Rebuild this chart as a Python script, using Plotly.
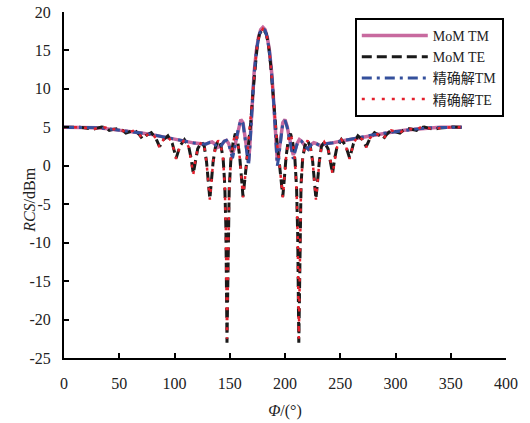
import plotly.graph_objects as go

# Bistatic RCS versus observation angle: MoM results and exact solution, TM and TE.

# --- TM polarisation ---
phi_tm = [0, 10, 20, 30, 40, 50, 60, 70, 80, 90, 100, 110, 118, 124, 128, 132, 134, 136, 139,
          142, 145, 147, 149, 151, 152.5, 154, 156, 158, 160, 162, 164, 166, 167, 168, 169, 170,
          172, 174, 176, 178, 180, 182, 184, 186, 188, 190, 191, 192, 193, 194, 196, 198, 200,
          202, 204, 206, 207.5, 209, 211, 213, 215, 218, 221, 224, 226, 228, 232, 236, 242, 250,
          260, 270, 280, 290, 300, 310, 320, 330, 340, 350, 360]
rcs_tm_mom = [5.0, 5.0, 5.0, 4.95, 4.8, 4.65, 4.45, 4.25, 4.05, 3.75, 3.45, 3.15, 2.95, 2.85, 2.8,
              3.05, 3.1, 2.9, 2.4, 2.6, 3.2, 3.3, 2.9, 2.0, 1.6, 2.2, 3.6, 5.1, 6.0, 5.6, 3.6, 1.2,
              0.6, 2.2, 5.0, 7.8, 12.0, 14.9, 16.7, 17.7, 18.0, 17.7, 16.7, 14.9, 12.0, 7.8, 5.0,
              2.2, 0.6, 1.2, 3.6, 5.6, 6.0, 5.1, 3.6, 2.2, 1.4, 2.0, 2.9, 3.4, 3.2, 2.6, 2.2, 2.8,
              3.0, 2.9, 2.6, 2.85, 2.95, 3.2, 3.45, 3.75, 4.05, 4.25, 4.45, 4.65, 4.8, 4.95, 5.0,
              5.0, 5.0]
rcs_tm_exact = [5.0, 5.0, 5.0, 4.95, 4.8, 4.65, 4.45, 4.25, 4.05, 3.75, 3.45, 3.15, 2.95, 2.85, 2.8,
                3.05, 3.1, 2.9, 2.35, 2.6, 3.2, 3.3, 2.85, 1.8, 1.0, 2.0, 3.5, 5.0, 5.9, 5.5, 3.4,
                0.8, 0.0, 1.9, 4.9, 7.7, 11.9, 14.8, 16.6, 17.6, 17.9, 17.6, 16.6, 14.8, 11.9, 7.7,
                4.9, 1.9, 0.0, 0.8, 3.4, 5.5, 5.9, 5.0, 3.5, 2.0, 0.9, 1.8, 2.85, 3.3, 3.2, 2.6,
                2.15, 2.8, 3.0, 2.9, 2.6, 2.85, 2.95, 3.2, 3.45, 3.75, 4.05, 4.25, 4.45, 4.65, 4.8,
                4.95, 5.0, 5.0, 5.0]

# --- TE polarisation ---
phi_te = [0, 8, 14, 20, 26, 30, 34, 38, 41, 45, 49, 53, 56, 60, 64, 68, 71, 74, 79, 83, 86.5, 90,
          94, 98, 101.5, 105, 109, 113, 115, 117, 119, 121, 124.5, 127, 129, 130.5, 132, 133.5,
          135, 137, 139.5, 142, 144, 145.5, 146.5, 147.5, 148.5, 149.5, 151, 153, 155, 157, 159,
          160.5, 162, 163.5, 165, 167, 169, 171, 173, 175, 177, 180, 183, 185, 187, 189, 191, 193,
          195, 196.5, 198, 199.5, 201, 203, 205, 207, 209, 210.5, 211.5, 212.5, 213.5, 214.5, 216,
          218, 220.5, 223, 225, 226.5, 228, 229.5, 231, 233, 235.5, 239, 241, 243, 245, 247, 251,
          255, 258.5, 262, 266, 270, 273.5, 277, 281, 286, 289, 292, 296, 300, 304, 307, 311, 315,
          319, 322, 326, 330, 334, 340, 346, 352, 360]
rcs_te_mom = [5.0, 5.05, 5.0, 4.9, 4.75, 4.9, 5.05, 4.95, 4.6, 4.75, 4.85, 4.6, 4.25, 4.45, 4.6,
              4.1, 3.5, 3.9, 4.3, 3.6, 2.5, 3.4, 3.9, 2.9, 1.0, 2.6, 3.4, 2.4, 1.0, -1.0, 0.8, 2.2,
              3.1, 2.5, 0.5, -2.0, -4.3, -1.8, 0.6, 2.4, 3.3, 2.6, 1.0, -2.5, -8.0, -23.0, -9.0,
              -3.0, 0.8, 3.0, 4.2, 3.4, 1.2, -1.5, -4.0, -2.0, 0.2, 2.6, 5.6, 9.6, 13.2, 15.8,
              17.2, 17.8, 17.2, 15.8, 13.2, 9.6, 5.6, 2.6, 0.2, -2.0, -4.0, -1.5, 1.2, 3.4, 4.2,
              3.0, 0.8, -3.0, -9.0, -23.0, -8.0, -2.5, 1.0, 2.6, 3.3, 2.4, 0.6, -1.8, -4.3, -2.0,
              0.5, 2.5, 3.1, 2.2, 0.8, -1.0, 1.0, 2.4, 3.4, 2.6, 1.0, 2.9, 3.9, 3.4, 2.5, 3.6, 4.3,
              3.9, 3.5, 4.1, 4.6, 4.45, 4.25, 4.6, 4.85, 4.75, 4.6, 4.95, 5.05, 4.9, 4.75, 4.9,
              5.0, 5.05, 5.0]
rcs_te_exact = [5.0, 5.05, 5.0, 4.9, 4.75, 4.9, 5.05, 4.95, 4.6, 4.75, 4.85, 4.6, 4.3, 4.45, 4.6,
                4.1, 3.5, 3.9, 4.3, 3.6, 2.4, 3.4, 3.9, 2.9, 0.9, 2.6, 3.4, 2.4, 0.9, -1.1, 0.8,
                2.2, 3.1, 2.5, 0.4, -2.1, -4.4, -1.9, 0.6, 2.4, 3.3, 2.6, 0.9, -2.7, -8.5, -22.5,
                -9.5, -3.2, 0.7, 3.0, 4.2, 3.4, 1.1, -1.6, -4.1, -2.1, 0.2, 2.6, 5.6, 9.6, 13.2,
                15.8, 17.2, 17.8, 17.2, 15.8, 13.2, 9.6, 5.6, 2.6, 0.2, -2.1, -4.1, -1.6, 1.1, 3.4,
                4.2, 3.0, 0.7, -3.2, -9.5, -22.5, -8.5, -2.7, 0.9, 2.6, 3.3, 2.4, 0.6, -1.9, -4.4,
                -2.1, 0.4, 2.5, 3.1, 2.2, 0.9, -1.1, 0.9, 2.4, 3.4, 2.6, 0.9, 2.9, 3.9, 3.4, 2.4,
                3.6, 4.3, 3.9, 3.5, 4.1, 4.6, 4.45, 4.3, 4.6, 4.85, 4.75, 4.6, 4.95, 5.05, 4.9,
                4.75, 4.9, 5.0, 5.05, 5.0]

series_names = ["MoM TM", "MoM TE", "精确解TM", "精确解TE"]

x_ticks = [0, 50, 100, 150, 200, 250, 300, 350, 400]
y_ticks = [-25, -20, -15, -10, -5, 0, 5, 10, 15, 20]
y_tick_text = ["-25", "-20", "-15", "-10", "-5", "0", "5", "10", "15", "20"]

FONT = "Liberation Serif, 'Times New Roman', 'Noto Sans CJK SC', serif"

fig = go.Figure()
fig.add_trace(go.Scatter(x=phi_tm, y=rcs_tm_mom, mode="lines", name=series_names[0],
                         line=dict(color="#c86a9f", width=3.5)))
fig.add_trace(go.Scatter(x=phi_te, y=rcs_te_mom, mode="lines", name=series_names[1],
                         line=dict(color="#1a1a1a", width=3, dash="10px,5px")))
fig.add_trace(go.Scatter(x=phi_tm, y=rcs_tm_exact, mode="lines", name=series_names[2],
                         line=dict(color="#34509c", width=3, dash="10px,5px,3px,5px")))
fig.add_trace(go.Scatter(x=phi_te, y=rcs_te_exact, mode="lines", name=series_names[3],
                         line=dict(color="#e3202c", width=2.5, dash="3px,7px")))

axis_common = dict(showline=True, linecolor="black", linewidth=2, ticks="inside",
                   ticklen=5, tickwidth=2, tickcolor="black", showgrid=False,
                   zeroline=False, mirror=False, automargin=False,
                   tickfont=dict(family=FONT, size=16, color="#222"))

fig.update_layout(
    width=530, height=423,
    margin=dict(l=64, r=24, t=12, b=65),
    paper_bgcolor="white", plot_bgcolor="white",
    font=dict(family=FONT, size=15, color="#222"),
    xaxis=dict(range=[0, 400], tickvals=x_ticks, ticklabelstandoff=10,
               title=dict(text="<i>Φ</i>/(°)", font=dict(family=FONT, size=16), standoff=14),
               **axis_common),
    yaxis=dict(range=[-25, 20], tickvals=y_ticks, ticktext=y_tick_text,
               ticklabelstandoff=8, **axis_common),
    legend=dict(x=0.995, y=0.983, xanchor="right", yanchor="top",
                bordercolor="black", borderwidth=2, bgcolor="white",
                font=dict(family=FONT, size=14, color="#222"),
                tracegroupgap=0, itemwidth=66),
    showlegend=True,
)

fig.add_annotation(text="<i>RCS</i>/dBm", xref="paper", yref="paper",
                   x=-0.077, y=0.457, xanchor="center", yanchor="middle",
                   textangle=-90, showarrow=False,
                   font=dict(family=FONT, size=16, color="#222"))

fig.write_html("out.html")
